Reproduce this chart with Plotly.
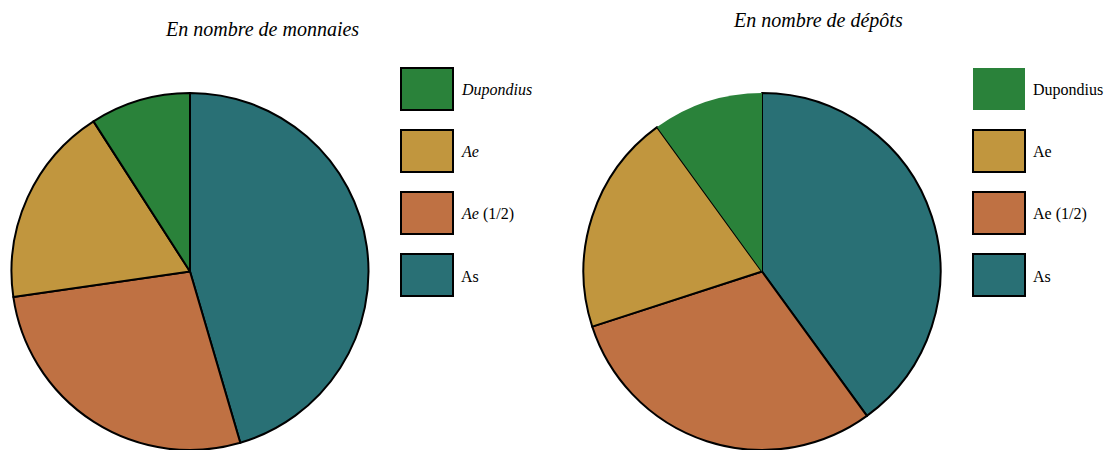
import plotly.graph_objects as go

# Data (legend order)
categories = ["Dupondius", "Ae", "Ae (1/2)", "As"]
monnaies = [5, 10, 15, 25]
depots = [1, 2, 3, 4]
colors = ["#2A823A", "#C1963E", "#BF7143", "#297075"]
labels_left = ["<i>Dupondius</i>", "<i>Ae</i>", "<i>Ae</i> (1/2)", "As"]
labels_right = ["Dupondius", "Ae", "Ae (1/2)", "As"]
titles = ["<i>En nombre de monnaies</i>", "<i>En nombre de dépôts</i>"]

W, H = 1119, 450
FONT = "Liberation Serif"

def px(x):
    return x / W

def py(y):
    return 1 - y / H

def rev(a):
    return list(a)[::-1]

fig = go.Figure()

fig.add_trace(go.Pie(
    labels=rev(categories), values=rev(monnaies), sort=False, direction="clockwise",
    rotation=0, textinfo="none", hoverinfo="label+value+percent",
    marker=dict(colors=rev(colors), line=dict(color="black", width=2)),
    domain=dict(x=[px(11), px(369)], y=[0, py(93)]),
    showlegend=False,
))
fig.add_trace(go.Pie(
    labels=rev(categories), values=rev(depots), sort=False, direction="clockwise",
    rotation=0, textinfo="none", hoverinfo="label+value+percent",
    marker=dict(colors=rev(colors), line=dict(color="black", width=rev([0, 2, 2, 2]))),
    domain=dict(x=[px(583), px(941)], y=[0, py(93)]),
    showlegend=False,
))

shapes = []
annotations = []

# Custom legends
legend_specs = [
    (401, 459, labels_left, [2, 2, 2, 2]),
    (973, 1031, labels_right, [0, 2, 2, 2]),
]
for lx, tx, labs, borders in legend_specs:
    for i, (lab, col, bw) in enumerate(zip(labs, colors, borders)):
        y0 = 68 + i * 62
        shapes.append(dict(
            type="rect", xref="paper", yref="paper",
            x0=px(lx), x1=px(lx + 52), y0=py(y0), y1=py(y0 + 42),
            fillcolor=col, line=dict(color="black", width=bw),
        ))
        annotations.append(dict(
            x=px(tx), y=py(y0 + 22), xref="paper", yref="paper",
            text=lab, showarrow=False, xanchor="left", yanchor="middle",
            font=dict(family=FONT, size=16, color="black"),
        ))

annotations.append(dict(x=px(262), y=py(29), xref="paper", yref="paper",
                        text=titles[0], showarrow=False, xanchor="center", yanchor="middle",
                        font=dict(family=FONT, size=20, color="black")))
annotations.append(dict(x=px(818), y=py(21), xref="paper", yref="paper",
                        text=titles[1], showarrow=False, xanchor="center", yanchor="middle",
                        font=dict(family=FONT, size=20, color="black")))

fig.update_layout(
    width=W, height=H,
    margin=dict(l=0, r=0, t=0, b=0),
    paper_bgcolor="white", plot_bgcolor="white",
    shapes=shapes, annotations=annotations,
    font=dict(family=FONT),
)

fig.write_html("out.html", config={"displayModeBar": False},
               post_script="document.body.style.margin='0px';document.body.style.overflow='hidden';")
